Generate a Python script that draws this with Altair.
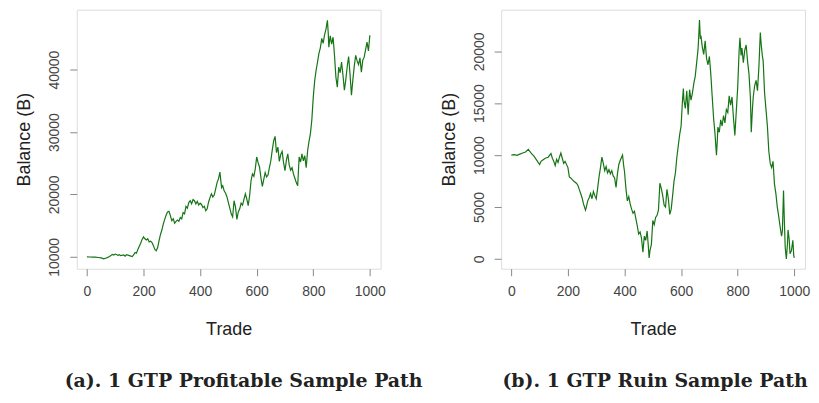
import altair as alt
import pandas as pd

# ---- Panel (a): profitable path ----
trade_a = [0, 10, 20, 30, 40, 50, 60, 65, 70, 80, 90, 95, 100, 110, 115, 120, 130, 135, 140, 150,
           160, 165, 170, 175, 180, 185, 190, 195, 200, 205, 210, 215, 220, 225, 230, 235, 240, 245, 250, 255,
           260, 265, 270, 275, 280, 285, 290, 295, 300, 305, 310, 315, 320, 325, 330, 335, 340, 345, 350, 355,
           360, 365, 370, 375, 380, 385, 390, 395, 400, 405, 410, 415, 420, 425, 430, 435, 440, 445, 450, 455,
           460, 465, 470, 473, 476, 480, 485, 490, 495, 500, 505, 510, 515, 520, 525, 530, 535, 540, 545, 550,
           555, 560, 565, 570, 575, 580, 585, 590, 595, 600, 605, 610, 615, 620, 625, 630, 635, 640, 645, 650,
           655, 660, 665, 670, 675, 680, 685, 690, 695, 700, 705, 710, 715, 720, 725, 730, 735, 740, 745, 750,
           755, 760, 765, 770, 775, 780, 785, 790, 795, 800, 805, 810, 815, 820, 825, 830, 835, 840, 845, 850,
           853, 855, 860, 865, 870, 875, 880, 885, 890, 895, 900, 905, 910, 915, 920, 925, 930, 935, 940, 945,
           950, 955, 960, 965, 970, 975, 980, 985, 990, 995, 1000]
balance_a = [10000, 9980, 9950, 9960, 9900, 9850, 9700, 9780, 9850, 10050, 10400, 10300, 10450, 10250, 10350, 10200, 10300, 10100, 10350, 10200,
             10050, 10300, 10700, 10600, 11200, 11700, 12200, 12800, 13200, 12900, 12700, 12900, 12400, 12500, 12300, 11800, 11200, 11000, 11500, 12600,
             13600, 14300, 15300, 16000, 16700, 17200, 17300, 16600, 15800, 16100, 15400, 15700, 15900, 15700, 16300, 16100, 17100, 16900, 18100, 17800,
             18700, 19000, 18500, 19200, 19000, 18500, 18900, 18300, 18600, 18400, 17900, 18100, 17400, 17700, 18800, 19500, 20100, 19600, 19900, 20900,
             21900, 22500, 23600, 22300, 21100, 21400, 20600, 20200, 19600, 18700, 17800, 16900, 16400, 19000, 18000, 16000, 17200, 17700, 18600, 18300,
             19200, 20100, 19300, 18200, 19800, 22200, 23300, 22900, 24100, 26000, 25100, 24400, 22700, 21300, 22400, 23500, 22800, 23100, 24300, 25400,
             27100, 28600, 29300, 26700, 27600, 25300, 26400, 26900, 25100, 23800, 25500, 26500, 24700, 23900, 24300, 23300, 22600, 21900, 21400, 26000,
             25200, 26500, 25400, 26200, 24300, 27000, 28500, 29800, 32000, 35600, 38200, 39900, 41200, 42600, 43500, 45000, 44200, 45600, 46500, 47900,
             45800, 43600, 45400, 44100, 45200, 42300, 38800, 37200, 40400, 39500, 41200, 39100, 36700, 38400, 40500, 42100, 39200, 35900, 38400, 40600,
             42300, 41400, 40800, 41900, 39600, 41500, 42000, 43200, 44400, 43000, 45500]

# ---- Panel (b): ruin path ----
trade_b = [0, 10, 20, 30, 40, 50, 60, 70, 80, 90, 100, 105, 110, 120, 130, 140, 145, 150, 155, 160,
           165, 170, 175, 180, 185, 190, 200, 205, 210, 220, 230, 235, 240, 245, 250, 255, 262, 265, 270, 275,
           280, 285, 290, 295, 300, 305, 310, 315, 320, 325, 330, 335, 340, 345, 350, 355, 360, 365, 370, 375,
           380, 385, 393, 397, 400, 405, 410, 415, 420, 425, 430, 435, 440, 445, 450, 455, 460, 465, 470, 475,
           480, 484, 487, 490, 495, 500, 505, 510, 515, 520, 525, 530, 535, 540, 545, 550, 555, 560, 565, 570,
           575, 580, 585, 590, 595, 600, 605, 608, 610, 615, 620, 625, 630, 635, 640, 645, 650, 655, 660, 663,
           665, 668, 670, 675, 680, 685, 690, 695, 700, 705, 710, 715, 720, 725, 728, 730, 735, 740, 745, 750,
           755, 760, 765, 770, 775, 780, 785, 790, 795, 800, 805, 808, 812, 815, 820, 825, 830, 835, 840, 845,
           848, 852, 855, 860, 865, 870, 875, 880, 883, 887, 890, 895, 900, 905, 910, 915, 920, 925, 930, 935,
           940, 945, 950, 955, 958, 962, 965, 968, 972, 976, 978, 982, 985, 990, 995, 998, 1000]
balance_b = [10000, 10050, 9980, 10100, 10200, 10300, 10550, 10200, 9900, 9500, 9100, 9400, 9500, 9700, 9800, 10150, 9700, 9400, 9000, 9600,
             9300, 9800, 10200, 9700, 9200, 9400, 8800, 7900, 7800, 7500, 7300, 7100, 6700, 6300, 5900, 5300, 4700, 5000, 5600, 5900,
             6300, 5800, 6500, 6100, 5800, 6800, 7900, 8800, 9800, 9200, 8500, 8900, 8300, 8600, 8200, 8500, 8000, 7800, 6900, 8200,
             9100, 9500, 10000, 9000, 8400, 6800, 5600, 6000, 5300, 4800, 4400, 4600, 3900, 3200, 2400, 2600, 2000, 650, 2200, 1800,
             2700, 1300, 100, 800, 1400, 3700, 3300, 4000, 4200, 4700, 7300, 6800, 6100, 5200, 5000, 6700, 5800, 4300, 4800, 6100,
             7500, 8300, 9800, 10900, 12000, 12800, 15300, 16400, 15300, 14500, 16200, 13900, 16300, 15300, 16000, 16900, 17600, 18900, 20200, 21800,
             23000, 21200, 21500, 20400, 19700, 21000, 19300, 18700, 19500, 17800, 15600, 13500, 12000, 10000, 11400, 12700, 12200, 13400, 12800, 13800,
             13100, 14400, 14100, 15700, 14800, 15600, 13600, 11900, 14200, 16500, 20000, 21300, 19600, 20300, 18900, 20100, 20600, 19000, 17800, 15500,
             12200, 14400, 15600, 16700, 17200, 16200, 18500, 21800, 20700, 19600, 19100, 16000, 14400, 12800, 10400, 9200, 8800, 9400, 7200, 6300,
             5000, 4100, 3100, 2200, 2700, 6600, 3600, 1100, 0, 1500, 2800, 1900, 500, 800, 1800, 400, 100]

x_ticks = [0, 200, 400, 600, 800, 1000]
y_ticks_a = [10000, 20000, 30000, 40000]
y_ticks_b = [0, 5000, 10000, 15000, 20000]

caption_a = "(a). 1 GTP Profitable Sample Path"
caption_b = "(b). 1 GTP Ruin Sample Path"

LINE = "#157515"
GRAY = "#888888"


def panel(trades, balances, ydom, yticks, caption, dx):
    df = pd.DataFrame({"trade": trades, "balance": balances})
    return alt.Chart(df).mark_line(color=LINE, strokeWidth=1.2).encode(
        x=alt.X("trade:Q",
                scale=alt.Scale(domain=[-36, 1038], nice=False, zero=False),
                axis=alt.Axis(values=x_ticks, format="d", title="Trade", grid=False, domain=False,
                              tickColor=GRAY, tickSize=7, labelPadding=9, labelFontSize=14,
                              labelColor="#444444", titleFontSize=18, titleColor="#222222",
                              titleFontWeight="normal", titlePadding=22,
                              labelFont="Liberation Sans", titleFont="Liberation Sans")),
        y=alt.Y("balance:Q",
                scale=alt.Scale(domain=ydom, nice=False, zero=False),
                axis=alt.Axis(values=yticks, format="d", title="Balance (B)", grid=False, domain=False,
                              tickColor=GRAY, tickSize=7, labelPadding=8, labelFontSize=14,
                              labelAngle=-90, labelAlign="center", labelBaseline="bottom",
                              labelColor="#444444", titleFontSize=18, titleColor="#222222",
                              titleFontWeight="normal", titlePadding=14,
                              labelFont="Liberation Sans", titleFont="Liberation Sans")),
    ).properties(
        width=305, height=260,
        title=alt.TitleParams(text=caption, orient="bottom", anchor="middle", dx=dx, offset=34,
                              font="DejaVu Serif", fontSize=19, fontWeight="bold", color="#222222"),
    )


left = panel(trade_a, balance_a, [8100, 49600], y_ticks_a, caption_a, 15)
right = panel(trade_b, balance_b, [-940, 24000], y_ticks_b, caption_b, 2)

chart = alt.hconcat(left, right, spacing=121, bounds="flush").properties(
    padding={"left": 7, "top": 0, "right": 0, "bottom": 0}
).configure_view(stroke=GRAY, strokeWidth=1).configure(background="white")

chart.save("out.html", embed_options={"renderer": "svg", "actions": False})
